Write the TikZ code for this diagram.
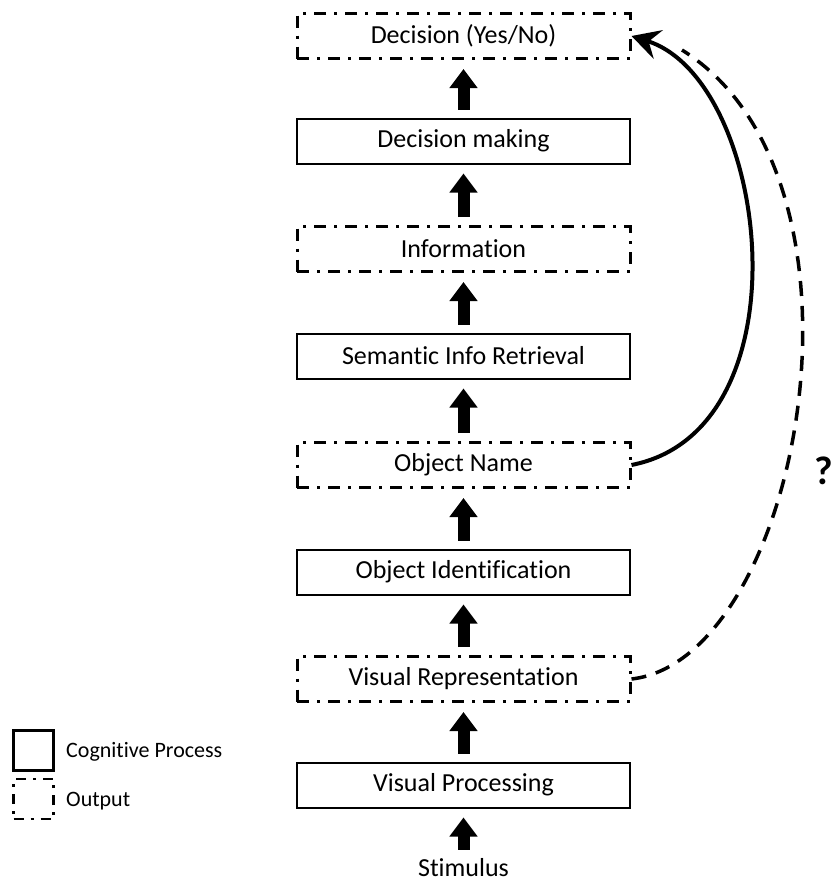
\documentclass[tikz,border=0pt]{standalone}
\usepackage{fontspec}
\setmainfont{Carlito}[RawFeature=-liga]
\usetikzlibrary{arrows.meta}
\tikzset{
  procbox/.style={draw=black, line width=2pt, minimum width=333pt, minimum height=45pt, inner sep=0pt, font=\fontsize{26}{30}\selectfont},
  outbox/.style={draw=black, line width=3pt, dash pattern=on 12pt off 8pt on 3pt off 8pt, minimum width=333pt, minimum height=45pt, inner sep=0pt, font=\fontsize{26}{30}\selectfont},
  blockarrow/.style={line width=12pt, -{Triangle[width=27pt,length=19pt]}, shorten >=9pt, shorten <=8pt},
  solidcurve/.style={line width=4pt, -{Stealth[length=28pt,width=30pt,inset=10pt]}},
  dashcurve/.style={line width=3.5pt, dash pattern=on 15pt off 10pt},
  legtext/.style={anchor=west, inner sep=0pt, font=\fontsize{22}{26}\selectfont}
}
\begin{document}
\begin{tikzpicture}[x=1pt,y=-1pt]
\useasboundingbox (0,0) rectangle (833,884);
\node[outbox]  (dec)  at (463.5,36)  {Decision (Yes/No)};
\node[procbox] (dmk)  at (463.5,141) {Decision making};
\node[outbox]  (inf)  at (463.5,249) {Information};
\node[procbox] (sir)  at (463.5,356) {Semantic Info Retrieval};
\node[outbox]  (onm)  at (463.5,465) {Object Name};
\node[procbox] (oid)  at (463.5,572) {Object Identification};
\node[outbox]  (vrp)  at (463.5,679) {Visual Representation};
\node[procbox] (vpr)  at (463.5,785) {Visual Processing};
\node[inner sep=0pt, anchor=base, font=\fontsize{26}{30}\selectfont] (stim) at (463.5,876) {Stimulus};

\draw[blockarrow] (dmk.north) -- (dec.south);
\draw[blockarrow] (inf.north) -- (dmk.south);
\draw[blockarrow] (sir.north) -- (inf.south);
\draw[blockarrow] (onm.north) -- (sir.south);
\draw[blockarrow] (oid.north) -- (onm.south);
\draw[blockarrow] (vrp.north) -- (oid.south);
\draw[blockarrow] (vpr.north) -- (vrp.south);
\draw[blockarrow, shorten <=8pt] (stim.north) -- (vpr.south);

\coordinate (dend) at (682,50);
\draw[dashcurve] (vrp.east) .. controls (800,660) and (890,180) .. (dend);
\draw[solidcurve] (onm.east) .. controls (810,430) and (770,80) .. (dec.east);

\node[font=\bfseries\fontsize{40}{44}\selectfont, inner sep=0pt, anchor=east] (qm) at (833,471) {?};

\node[draw=black, line width=2.5pt, minimum size=40pt, inner sep=0pt] (legp) at (33.5,750.5) {};
\node[draw=black, line width=2.5pt, dash pattern=on 10pt off 7pt on 3pt off 7pt, minimum size=40pt, inner sep=0pt] (lego) at (33.5,799) {};
\node[legtext] (legpt) at (66,752) {Cognitive Process};
\node[legtext] (legot) at (66,801) {Output};
\end{tikzpicture}
\end{document}
